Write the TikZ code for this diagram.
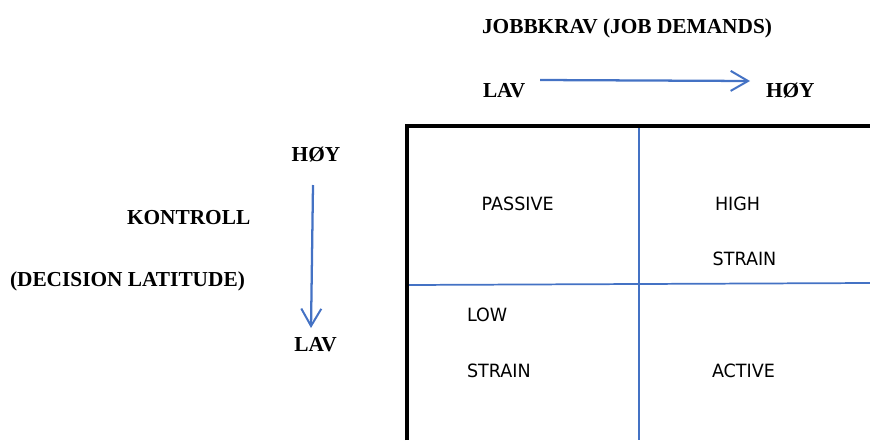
\documentclass[tikz,border=0pt]{standalone}
\usepackage{fontspec}
\setmainfont{Liberation Serif}
\newfontfamily\quadfont[FakeStretch=0.96]{DejaVu Sans}
\usetikzlibrary{arrows.meta}
\definecolor{axisblue}{HTML}{4472C4}

\begin{document}
\begin{tikzpicture}[x=0.75pt,y=-0.75pt,
    every node/.style={inner sep=0,outer sep=0},
    head/.style={font=\fontsize{16}{19}\selectfont\bfseries,anchor=base west},
    quad/.style={font=\quadfont\fontsize{13.7}{16}\selectfont,anchor=base west},
    axis/.style={axisblue,line width=1.7pt,-{Straight Barb[length=13pt,width=15pt,line width=1.5pt]}},
    divider/.style={axisblue,line width=1.3pt}]
        \useasboundingbox (0,0) rectangle (870,440);
        \node[head] (title) at (482,33.3) {JOBBKRAV (JOB DEMANDS)};
        \node[head] (lowd) at (483,97) {LAV};
        \node[head] (highd) at (766,97) {HØY};
        \node[head,anchor=base] (highc) at (316,161.7) {HØY};
        \node[head,anchor=base] (lowc) at (315.5,351.7) {LAV};
        \node[head] (ctrl) at (127,224) {KONTROLL};
        \node[head] (latitude) at (10,286) {(DECISION LATITUDE)};
        \coordinate (d1) at (540,80);
        \coordinate (d2) at (750,81);
        \coordinate (c1) at (313,185);
        \coordinate (c2) at (311,328);
        \draw[axis] (d1) -- (d2);
        \draw[axis] (c1) -- (c2);
        \coordinate (nw) at (407,126);
        \coordinate (ne) at (870,126);
        \coordinate (sw) at (407,440);
        \draw[divider] (639,126) -- (639,440);
        \draw[divider] (407,285) -- (870,283);
        \draw[line width=2.5pt] (sw) -- (nw) -- (ne);
        \node[quad] (passive) at (481.7,210.7) {PASSIVE};
        \node[quad] (high) at (715,210.7) {HIGH};
        \node[quad] (hstrain) at (712.7,265.7) {STRAIN};
        \node[quad] (low) at (467,321.7) {LOW};
        \node[quad] (lstrain) at (467,377.7) {STRAIN};
        \node[quad] (active) at (712,377.7) {ACTIVE};
\end{tikzpicture}
\end{document}
